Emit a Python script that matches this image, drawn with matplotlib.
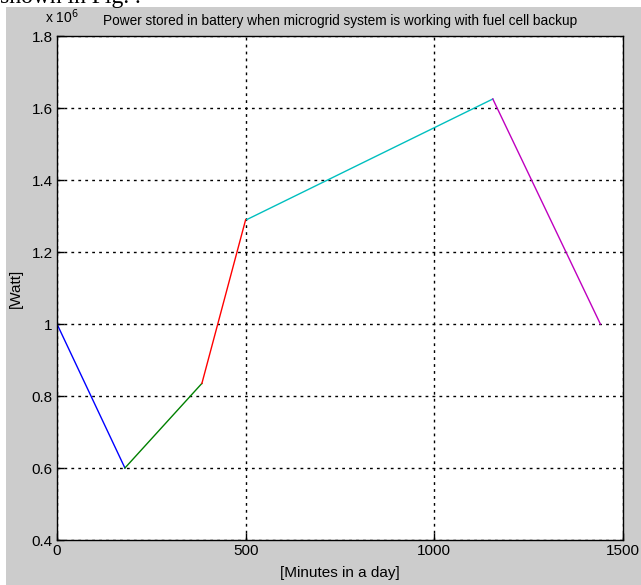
import matplotlib.pyplot as plt
from matplotlib.patches import Rectangle

# battery power, in units of 1e6 W, one segment per period of the day
seg_x = [[0, 180], [180, 384], [384, 500], [503, 1155], [1155, 1440]]
seg_y = [[1.0, 0.6], [0.6, 0.835], [0.835, 1.29], [1.29, 1.625], [1.625, 1.0]]
seg_colors = ['#0000ff', '#008000', '#ff0000', '#00bfbf', '#bf00bf']

x_ticks = [0, 500, 1000, 1500]
y_ticks = [0.4, 0.6, 0.8, 1.0, 1.2, 1.4, 1.6, 1.8]
y_labels = ['0.4', '0.6', '0.8', '1', '1.2', '1.4', '1.6', '1.8']

plt.rcParams['font.family'] = ['Liberation Sans', 'DejaVu Sans']
plt.rcParams['font.size'] = 11

fig = plt.figure(figsize=(6.41, 5.85), dpi=100, facecolor='#cccccc')
# white page strip above the figure with the cut-off document text
fig.patches.append(Rectangle((0, 1 - 7 / 585), 1, 7 / 585, transform=fig.transFigure,
                             facecolor='white', edgecolor='none', zorder=0))
fig.patches.append(Rectangle((0, 0), 6 / 641, 1, transform=fig.transFigure,
                             facecolor='white', edgecolor='none', zorder=0))
fig.text(0.0, 1 - 3 / 585, 'shown in Fig. .', family=['Liberation Serif'], fontsize=17,
         va='baseline', ha='left', clip_on=False)

ax = fig.add_axes([57 / 641, 45 / 585, 566 / 641, 504 / 585])
for xs, ys, c in zip(seg_x, seg_y, seg_colors):
    ax.plot(xs, ys, color=c, lw=1)

ax.set_xlim(0, 1500)
ax.set_ylim(0.4, 1.8)
ax.set_xticks(x_ticks)
ax.set_yticks(y_ticks)
ax.set_yticklabels(y_labels)
ax.tick_params(direction='in', length=5, width=1, pad=3)
ax.grid(True, color='black', linestyle=(0, (2, 3)), linewidth=1)
for s in ax.spines.values():
    s.set_linewidth(1)

ax.set_xlabel('[Minutes in a day]', labelpad=6)
ax.set_ylabel('[Watt]', labelpad=6)
ax.set_title('Power stored in battery when microgrid system is working with fuel cell backup',
             fontsize=9.8, pad=8)
fig.text(45 / 641, 1 - 23 / 585, r'x 10$^6$', fontsize=10, va='baseline', ha='left')

fig.savefig('out.png', dpi=100, facecolor=fig.get_facecolor())
